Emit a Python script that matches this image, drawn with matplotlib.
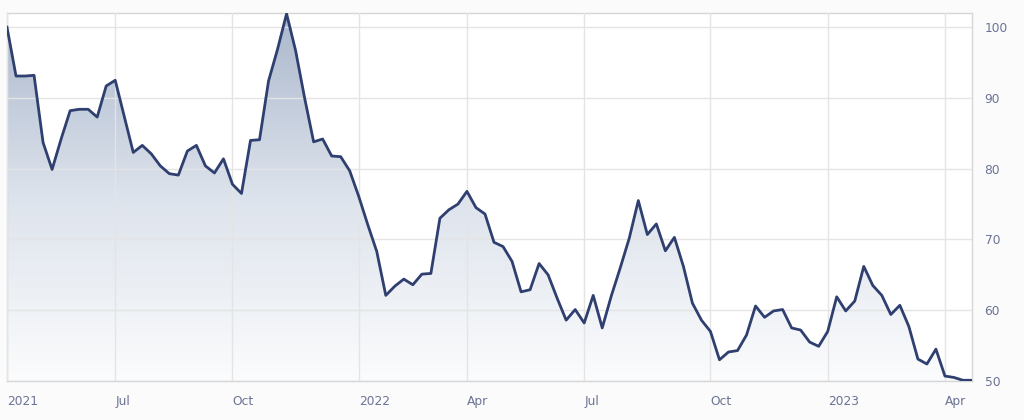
import numpy as np
import pandas as pd
import matplotlib
matplotlib.use('Agg')
import matplotlib.pyplot as plt
from matplotlib.colors import LinearSegmentedColormap

# weekly closing values
values = [100.0, 93.1, 93.1, 93.2, 83.7, 79.9, 84.2, 88.2, 88.4, 88.4,
          87.3, 91.7, 92.5, 87.4, 82.3, 83.3, 82.1, 80.4, 79.3, 79.1,
          82.5, 83.3, 80.4, 79.4, 81.4, 77.8, 76.5, 84.0, 84.1, 92.4,
          96.9, 101.9, 96.7, 90.0, 83.8, 84.2, 81.8, 81.7, 79.7, 76.1,
          72.1, 68.3, 62.1, 63.4, 64.4, 63.6, 65.1, 65.2, 73.0, 74.2,
          75.0, 76.8, 74.5, 73.6, 69.6, 69.0, 66.9, 62.6, 62.9, 66.6,
          65.0, 61.7, 58.6, 60.1, 58.2, 62.1, 57.5, 62.0, 66.0, 70.2,
          75.5, 70.7, 72.2, 68.4, 70.3, 66.2, 61.0, 58.6, 57.0, 53.0,
          54.1, 54.3, 56.5, 60.6, 59.0, 59.9, 60.1, 57.5, 57.2, 55.5,
          54.9, 57.0, 61.9, 59.9, 61.3, 66.2, 63.5, 62.1, 59.4, 60.7,
          57.7, 53.1, 52.4, 54.5, 50.7, 50.5, 50.1, 50.1]
start_date = '2021-04-09'
y_ticks = [50, 60, 70, 80, 90, 100]

dates = pd.date_range(start_date, periods=len(values), freq='7D')
x = np.arange(len(values))

# ordinal axis: tick on first point of each quarter (plus the first point)
tick_pos, tick_lab = [0], [str(dates[0].year)]
for i in range(1, len(dates)):
    if dates[i].month != dates[i - 1].month and dates[i].month in (1, 4, 7, 10):
        tick_pos.append(i)
        tick_lab.append(str(dates[i].year) if dates[i].month == 1 else dates[i].strftime('%b'))

line_c = '#2f3f6f'
grid_c = '#e4e4e4'
text_c = '#6b7394'

fig = plt.figure(figsize=(10.24, 4.2), dpi=100, facecolor='#fbfbfb')
ax = fig.add_axes([7 / 1024, 1 - 381 / 420, 965 / 1024, (381 - 12.7) / 420])
ax.set_facecolor('white')

ymin, ymax = 50, 102.05
ax.set_xlim(0, len(values) - 1)
ax.set_ylim(ymin, ymax)

# gradient fill under the line
cmap = LinearSegmentedColormap.from_list('g', ['#fbfcfd', '#dde3ec', '#aab7cc'])
grad = np.linspace(0, 1, 256).reshape(-1, 1)
im = ax.imshow(grad, cmap=cmap, aspect='auto', origin='lower',
               extent=[0, len(values) - 1, ymin, ymax], zorder=1)
poly = ax.fill_between(x, values, ymin, facecolor='none', edgecolor='none', zorder=1)
im.set_clip_path(poly.get_paths()[0], transform=ax.transData)

ax.plot(x, values, color=line_c, lw=2.0, zorder=3, solid_joinstyle='round')

ax.set_xticks(tick_pos)
ax.set_xticklabels(tick_lab)
ax.set_yticks(y_ticks)
ax.yaxis.tick_right()
ax.grid(True, color=grid_c, lw=1, zorder=2)
ax.set_axisbelow(False)
for gl in ax.get_xgridlines() + ax.get_ygridlines():
    gl.set_zorder(2)

ax.tick_params(axis='both', length=0, colors=text_c, labelsize=8.8)
ax.tick_params(axis='x', pad=10)
ax.tick_params(axis='y', pad=9)
for lbl in ax.get_xticklabels():
    lbl.set_ha('left')
for s in ax.spines.values():
    s.set_color('#d6d6d6')
    s.set_linewidth(1)

fig.savefig('out.png', dpi=100, facecolor=fig.get_facecolor())
